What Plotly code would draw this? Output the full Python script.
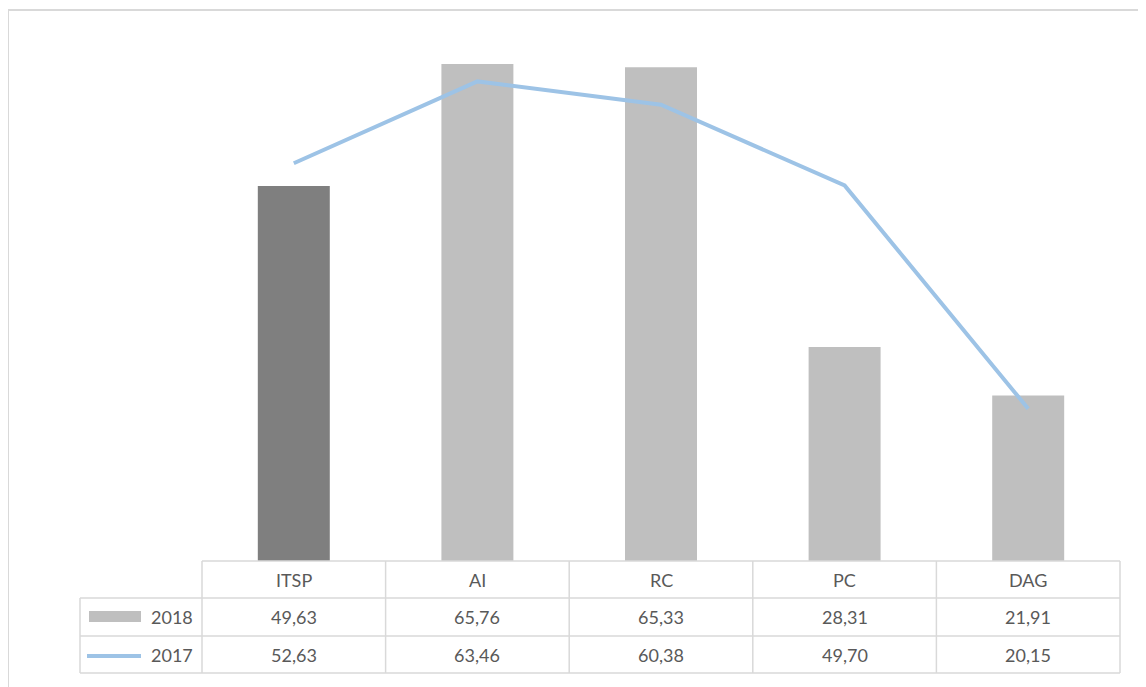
import plotly.graph_objects as go

categories = ["ITSP", "AI", "RC", "PC", "DAG"]
values_2018 = [49.63, 65.76, 65.33, 28.31, 21.91]
values_2017 = [52.63, 63.46, 60.38, 49.70, 20.15]
series_names = ["2018", "2017"]
bar_colors = ["#7f7f7f", "#bfbfbf", "#bfbfbf", "#bfbfbf", "#bfbfbf"]
line_color = "#9dc3e6"
text_color = "#595959"
grid_color = "#d9d9d9"

W, H = 1146, 687
OFF = 8  # page body margin offset
L, R, T, B = 202 - OFF, 1120 - OFF, 32 - OFF, 561 - OFF
PW, PH = R - L, B - T


def px(x):
    return (x - OFF - L) / PW


def py(y):
    return (B - (y - OFF)) / PH


def fmt(v):
    return f"{v:.2f}".replace(".", ",")


fig = go.Figure()
fig.add_trace(go.Bar(x=categories, y=values_2018, name=series_names[0],
                     marker=dict(color=bar_colors, line=dict(width=0)),
                     showlegend=False, hoverinfo="skip"))
fig.add_trace(go.Scatter(x=categories, y=values_2017, name=series_names[1], mode="lines",
                         line=dict(color=line_color, width=4),
                         showlegend=False, hoverinfo="skip"))

shapes = []
# chart border
shapes.append(dict(type="rect", xref="paper", yref="paper",
                   x0=px(8), x1=px(1160), y0=py(10), y1=py(710),
                   line=dict(color=grid_color, width=2), layer="below"))

row_lines = [561, 598, 636, 673]
col_lines = [202 + i * 918 / 5 for i in range(6)]
left_edge = 80
# horizontal lines
shapes.append(dict(type="line", xref="paper", yref="paper", x0=px(202), x1=px(1120),
                   y0=py(row_lines[0]), y1=py(row_lines[0]), line=dict(color=grid_color, width=1.5)))
for yy in row_lines[1:]:
    shapes.append(dict(type="line", xref="paper", yref="paper", x0=px(left_edge), x1=px(1120),
                       y0=py(yy), y1=py(yy), line=dict(color=grid_color, width=1.5)))
# vertical lines
for xx in col_lines:
    shapes.append(dict(type="line", xref="paper", yref="paper", x0=px(xx), x1=px(xx),
                       y0=py(row_lines[0]), y1=py(row_lines[-1]), line=dict(color=grid_color, width=1.5)))
shapes.append(dict(type="line", xref="paper", yref="paper", x0=px(left_edge), x1=px(left_edge),
                   y0=py(row_lines[1]), y1=py(row_lines[-1]), line=dict(color=grid_color, width=1.5)))
# legend keys
shapes.append(dict(type="rect", xref="paper", yref="paper", x0=px(89), x1=px(141),
                   y0=py(622), y1=py(611), fillcolor="#bfbfbf", line=dict(width=0)))
shapes.append(dict(type="line", xref="paper", yref="paper", x0=px(87), x1=px(141),
                   y0=py(656), y1=py(656), line=dict(color=line_color, width=4)))

annotations = []
font = dict(family="Lato, 'Open Sans', sans-serif", size=18, color=text_color)
row_centers = [(row_lines[i] + row_lines[i + 1]) / 2 for i in range(3)]
for i, c in enumerate(categories):
    annotations.append(dict(x=c, xref="x", y=py(row_centers[0]), yref="paper", text=c,
                            showarrow=False, font=font, xanchor="center", yanchor="middle"))
    annotations.append(dict(x=c, xref="x", y=py(row_centers[1]), yref="paper", text=fmt(values_2018[i]),
                            showarrow=False, font=font, xanchor="center", yanchor="middle"))
    annotations.append(dict(x=c, xref="x", y=py(row_centers[2]), yref="paper", text=fmt(values_2017[i]),
                            showarrow=False, font=font, xanchor="center", yanchor="middle"))
for j, name in enumerate(series_names):
    annotations.append(dict(x=px(195), xref="paper", y=py(row_centers[j + 1]), yref="paper", text=name,
                            showarrow=False, font=font, xanchor="right", yanchor="middle"))

fig.update_layout(
    width=W, height=H,
    margin=dict(l=L, r=W - R, t=T, b=H - B, pad=0),
    paper_bgcolor="white", plot_bgcolor="white",
    bargap=0.608,
    xaxis=dict(range=[-0.5, 4.5], showticklabels=False, showgrid=False, zeroline=False,
               showline=False, ticks="", fixedrange=True),
    yaxis=dict(range=[0, 70], visible=False, showgrid=False, zeroline=False, fixedrange=True),
    shapes=shapes, annotations=annotations,
)

fig.write_html("out.html")
